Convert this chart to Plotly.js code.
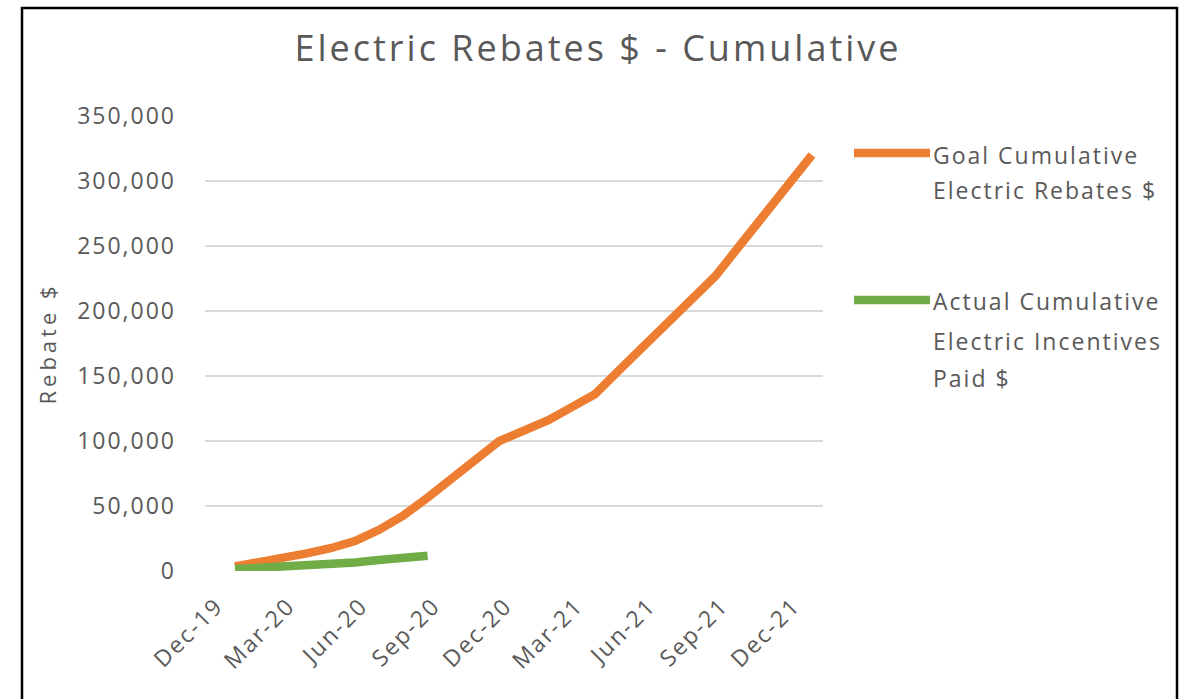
<!DOCTYPE html>
<html>
<head>
<meta charset="utf-8">
<script src="https://cdn.plot.ly/plotly-3.0.1.min.js"></script>
<style>
  html, body { margin: 0; padding: 0; background: #ffffff; }
  #chart { width: 1191px; height: 699px; }
  text { letter-spacing: 2px; }
  .gtitle { letter-spacing: 3px !important; }
  .ytitle { letter-spacing: 4px !important; }
</style>
</head>
<body>
<div id="chart"></div>
<script>
// ---- data ----
const months = [
  '2020-01-01','2020-02-01','2020-03-01','2020-04-01','2020-05-01','2020-06-01',
  '2020-07-01','2020-08-01','2020-09-01','2020-10-01','2020-11-01','2020-12-01',
  '2021-01-01','2021-02-01','2021-03-01','2021-04-01','2021-05-01','2021-06-01',
  '2021-07-01','2021-08-01','2021-09-01','2021-10-01','2021-11-01','2021-12-01',
  '2022-01-01'
];
const goalCumulative = [
  3500, 6500, 10000, 13500, 17500, 23000, 31500, 42500, 56500, 70500, 84500, 100000,
  108000, 116000, 125500, 136000, 154000, 172500, 191000, 209000, 227000, 250000,
  273000, 296500, 320000
];
const actualMonths = months.slice(0, 9);
const actualCumulative = [1500, 2500, 3300, 4000, 4800, 6500, 8500, 9800, 11800];
const tickDates = ['2019-12-01','2020-03-01','2020-06-01','2020-09-01','2020-12-01',
                   '2021-03-01','2021-06-01','2021-09-01','2021-12-01'];
const yTicks = [0, 50000, 100000, 150000, 200000, 250000, 300000, 350000];
const goalName = 'Goal Cumulative Electric Rebates $';
const actualName = 'Actual Cumulative Electric Incentives Paid $';
const goalLegendLines = ['Goal Cumulative', 'Electric Rebates $'];
const actualLegendLines = ['Actual Cumulative', 'Electric Incentives', 'Paid $'];
const chartTitle = 'Electric Rebates $ - Cumulative';
const yTitle = 'Rebate $';

// ---- styling / layout helpers ----
const ORANGE = '#ED7D31', GREEN = '#70AD47', GREY = '#595959';
const W = 1191, H = 699;
const PL = 205, PR = 823, PT = 116, PB = 571;
const X = px => (px - PL) / (PR - PL);
const Y = py => (PB - py) / (PB - PT);
const FONT = 'Open Sans, sans-serif';

const traces = [
  { x: months, y: goalCumulative, name: goalName, type: 'scatter', mode: 'lines',
    line: { color: ORANGE, width: 8.5 }, showlegend: false },
  { x: actualMonths, y: actualCumulative, name: actualName, type: 'scatter', mode: 'lines',
    line: { color: GREEN, width: 8.5 }, showlegend: false }
];

const annotations = [];
const legendText = (lines, ys) => lines.forEach((t, i) => annotations.push({
  xref: 'paper', yref: 'paper', x: X(931), y: Y(ys[i]), xanchor: 'left', yanchor: 'middle',
  text: t, showarrow: false, align: 'left', font: { family: FONT, size: 23, color: GREY }
}));
legendText(goalLegendLines, [155, 190]);
legendText(actualLegendLines, [301, 341, 378]);

const shapes = [
  { type: 'rect', xref: 'paper', yref: 'paper', x0: X(22), x1: X(1177), y0: Y(720), y1: Y(8),
    line: { color: '#000000', width: 2.5 }, fillcolor: 'rgba(0,0,0,0)', layer: 'below' },
  { type: 'line', xref: 'paper', yref: 'paper', x0: X(854), x1: X(930), y0: Y(153), y1: Y(153),
    line: { color: ORANGE, width: 8.5 } },
  { type: 'line', xref: 'paper', yref: 'paper', x0: X(854), x1: X(930), y0: Y(300), y1: Y(300),
    line: { color: GREEN, width: 8.5 } }
];

const layout = {
  width: W, height: H,
  margin: { l: PL, r: W - PR, t: PT, b: H - PB, pad: 0 },
  paper_bgcolor: '#ffffff', plot_bgcolor: '#ffffff',
  title: { text: chartTitle, xref: 'container', yref: 'container', x: 598 / W, y: 1 - 48 / H,
           xanchor: 'center', yanchor: 'middle', font: { family: FONT, size: 36, color: GREY } },
  xaxis: {
    type: 'date', range: ['2019-11-24', '2022-01-15'],
    tickvals: tickDates, tickformat: '%b-%y', tickangle: -45,
    showgrid: false, zeroline: false, showline: false, ticks: '',
    ticklabelstandoff: 16, ticklabelshift: 6,
    tickfont: { family: FONT, size: 23, color: GREY }, fixedrange: true
  },
  yaxis: {
    range: [0, 350000], tickvals: yTicks, tickformat: ',',
    showgrid: true, gridcolor: '#d9d9d9', gridwidth: 2.5, zeroline: false, showline: false,
    ticks: '', ticklabelstandoff: 28,
    tickfont: { family: FONT, size: 23, color: GREY },
    title: { text: yTitle, standoff: 14, font: { family: FONT, size: 22, color: GREY } },
    fixedrange: true
  },
  showlegend: false,
  shapes: shapes,
  annotations: annotations
};

Plotly.newPlot('chart', traces, layout, { displayModeBar: false, staticPlot: true });
</script>
</body>
</html>
